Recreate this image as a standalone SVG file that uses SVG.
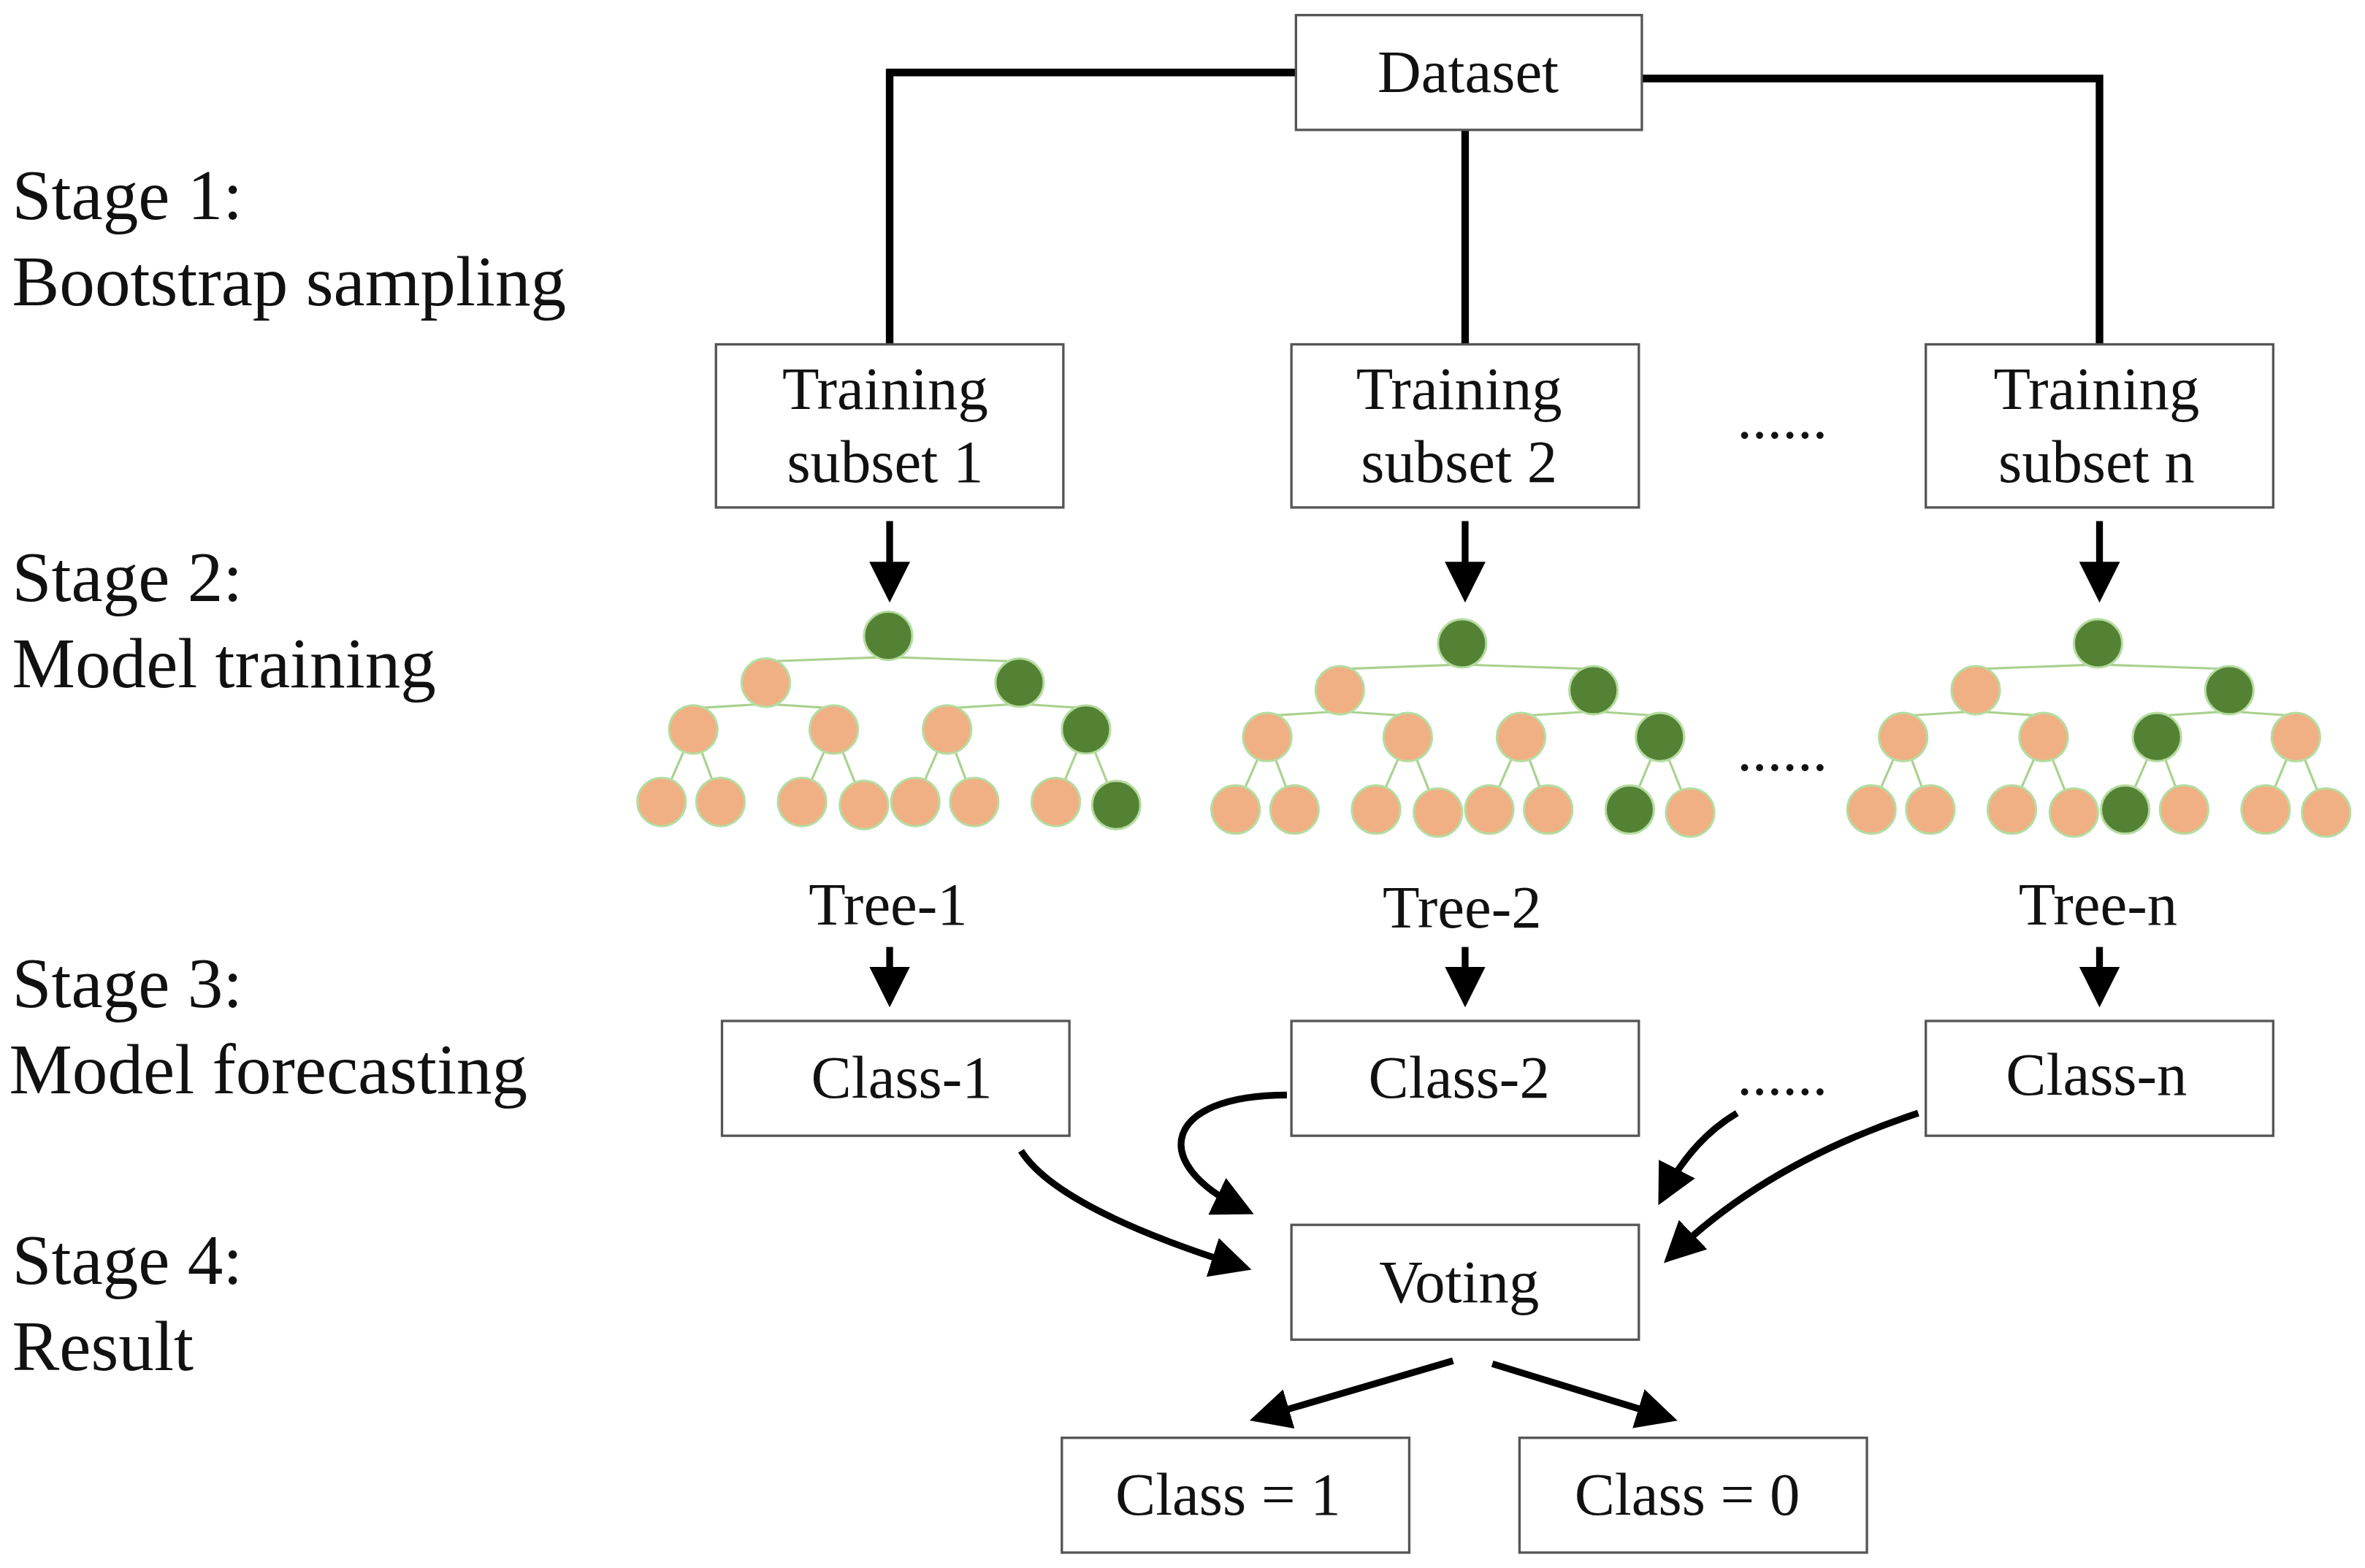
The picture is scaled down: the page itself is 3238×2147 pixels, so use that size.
<svg xmlns="http://www.w3.org/2000/svg" width="3238" height="2147" viewBox="0 0 3238 2147">
<style>
text{font-family:"Liberation Serif","Times New Roman",serif;fill:#111}
.st{font-size:47px}
.bt{font-size:40px;text-anchor:middle}
.box{fill:#fff;stroke:#555;stroke-width:1.6}
.c{stroke:#000;stroke-width:5;fill:none}
.a{stroke:#000;stroke-width:4.5;fill:none;marker-end:url(#ah)}
.o{fill:#f0b084;stroke:#b5dca0;stroke-width:1.5}
.g{fill:#548235;stroke:#b5dca0;stroke-width:1.5}
.e{stroke:#a9d18e;stroke-width:1.5}
</style>
<defs>
<marker id="ah" markerWidth="6" markerHeight="6" refX="4" refY="3" orient="auto" markerUnits="strokeWidth"><path d="M0,0 L6,3 L0,6 z" fill="#000"/></marker>
<g id="tree">
<line class="e" x1="0" y1="14" x2="-81" y2="17"/><line class="e" x1="0" y1="14" x2="87" y2="17"/>
<line class="e" x1="-81" y1="45" x2="-129" y2="48"/><line class="e" x1="-81" y1="45" x2="-36" y2="48"/>
<line class="e" x1="87" y1="45" x2="39" y2="48"/><line class="e" x1="87" y1="45" x2="131" y2="48"/>
<line class="e" x1="-129" y1="62" x2="-150" y2="110"/><line class="e" x1="-129" y1="62" x2="-111" y2="110"/>
<line class="e" x1="-36" y1="62" x2="-57" y2="110"/><line class="e" x1="-36" y1="62" x2="-16" y2="112"/>
<line class="e" x1="39" y1="62" x2="18" y2="110"/><line class="e" x1="39" y1="62" x2="57" y2="110"/>
<line class="e" x1="131" y1="62" x2="111" y2="110"/><line class="e" x1="131" y1="62" x2="151" y2="112"/>
</g>
</defs>
<rect width="3238" height="2147" fill="#fff"/>
<g transform="scale(2.068)">
<g id="stages">
<text class="st" x="8" y="145">Stage 1:</text><text class="st" x="8" y="202">Bootstrap sampling</text>
<text class="st" x="8" y="398">Stage 2:</text><text class="st" x="8" y="455">Model training</text>
<text class="st" x="8" y="667">Stage 3:</text><text class="st" x="6" y="724">Model forecasting</text>
<text class="st" x="8" y="850">Stage 4:</text><text class="st" x="8" y="907">Result</text>
</g>
<g id="connectors">
<path class="c" d="M858,48 H589 V230"/>
<path class="c" d="M970,86 V230"/>
<path class="c" d="M1087,52 H1390 V230"/>
<path class="a" d="M589,345 V390"/><path class="a" d="M970,345 V390"/><path class="a" d="M1390,345 V390"/>
<path class="a" d="M589,627 V658"/><path class="a" d="M970,627 V658"/><path class="a" d="M1390,627 V658"/>
<path class="a" d="M676,762 Q700,800 820,838"/>
<path class="a" d="M852,725 C770,725 760,770 822,800"/>
<path class="a" d="M1150,737 Q1120,755 1102,790"/>
<path class="a" d="M1270,737 Q1170,770 1108,830"/>
<path class="a" d="M962,901 L836,938"/>
<path class="a" d="M988,903 L1102,938"/>
</g>
<g id="dataset"><rect class="box" x="858" y="10" width="229" height="76"/><text class="bt" x="972" y="61">Dataset</text></g>
<g id="subset1"><rect class="box" x="474" y="228" width="230" height="108"/><text class="bt" x="586" y="271">Training</text><text class="bt" x="586" y="319">subset 1</text></g>
<g id="subset2"><rect class="box" x="855" y="228" width="230" height="108"/><text class="bt" x="966" y="271">Training</text><text class="bt" x="966" y="319">subset 2</text></g>
<g id="subsetn"><rect class="box" x="1275" y="228" width="230" height="108"/><text class="bt" x="1388" y="271">Training</text><text class="bt" x="1388" y="319">subset n</text></g>
<g id="dots"><text class="bt" x="1180" y="290">......</text><text class="bt" x="1180" y="510">......</text><text class="bt" x="1180" y="725">......</text></g>
<g id="tree1">
<use href="#tree" x="588" y="421"/>
<circle class="g" cx="588" cy="421" r="16"/><circle class="o" cx="507" cy="452" r="16"/><circle class="g" cx="675" cy="452" r="16"/>
<circle class="o" cx="459" cy="483" r="16"/><circle class="o" cx="552" cy="483" r="16"/><circle class="o" cx="627" cy="483" r="16"/><circle class="g" cx="719" cy="483" r="16"/>
<circle class="o" cx="438" cy="531" r="16"/><circle class="o" cx="477" cy="531" r="16"/><circle class="o" cx="531" cy="531" r="16"/><circle class="o" cx="572" cy="533" r="16"/><circle class="o" cx="606" cy="531" r="16"/><circle class="o" cx="645" cy="531" r="16"/><circle class="o" cx="699" cy="531" r="16"/><circle class="g" cx="739" cy="533" r="16"/>
<text class="bt" x="588" y="612">Tree-1</text>
</g>
<g id="tree2">
<use href="#tree" x="968" y="426"/>
<circle class="g" cx="968" cy="426" r="16"/><circle class="o" cx="887" cy="457" r="16"/><circle class="g" cx="1055" cy="457" r="16"/>
<circle class="o" cx="839" cy="488" r="16"/><circle class="o" cx="932" cy="488" r="16"/><circle class="o" cx="1007" cy="488" r="16"/><circle class="g" cx="1099" cy="488" r="16"/>
<circle class="o" cx="818" cy="536" r="16"/><circle class="o" cx="857" cy="536" r="16"/><circle class="o" cx="911" cy="536" r="16"/><circle class="o" cx="952" cy="538" r="16"/><circle class="o" cx="986" cy="536" r="16"/><circle class="o" cx="1025" cy="536" r="16"/><circle class="g" cx="1079" cy="536" r="16"/><circle class="o" cx="1119" cy="538" r="16"/>
<text class="bt" x="968" y="614">Tree-2</text>
</g>
<g id="treen">
<use href="#tree" x="1389" y="426"/>
<circle class="g" cx="1389" cy="426" r="16"/><circle class="o" cx="1308" cy="457" r="16"/><circle class="g" cx="1476" cy="457" r="16"/>
<circle class="o" cx="1260" cy="488" r="16"/><circle class="o" cx="1353" cy="488" r="16"/><circle class="g" cx="1428" cy="488" r="16"/><circle class="o" cx="1520" cy="488" r="16"/>
<circle class="o" cx="1239" cy="536" r="16"/><circle class="o" cx="1278" cy="536" r="16"/><circle class="o" cx="1332" cy="536" r="16"/><circle class="o" cx="1373" cy="538" r="16"/><circle class="g" cx="1407" cy="536" r="16"/><circle class="o" cx="1446" cy="536" r="16"/><circle class="o" cx="1500" cy="536" r="16"/><circle class="o" cx="1540" cy="538" r="16"/>
<text class="bt" x="1389" y="612">Tree-n</text>
</g>
<g id="class1"><rect class="box" x="478" y="676" width="230" height="76"/><text class="bt" x="597" y="727">Class-1</text></g>
<g id="class2"><rect class="box" x="855" y="676" width="230" height="76"/><text class="bt" x="966" y="727">Class-2</text></g>
<g id="classn"><rect class="box" x="1275" y="676" width="230" height="76"/><text class="bt" x="1388" y="725">Class-n</text></g>
<g id="voting"><rect class="box" x="855" y="811" width="230" height="76"/><text class="bt" x="966" y="862">Voting</text></g>
<g id="result1"><rect class="box" x="703" y="952" width="230" height="76"/><text class="bt" x="813" y="1003">Class = 1</text></g>
<g id="result0"><rect class="box" x="1006" y="952" width="230" height="76"/><text class="bt" x="1117" y="1003">Class = 0</text></g>
</g>
</svg>
